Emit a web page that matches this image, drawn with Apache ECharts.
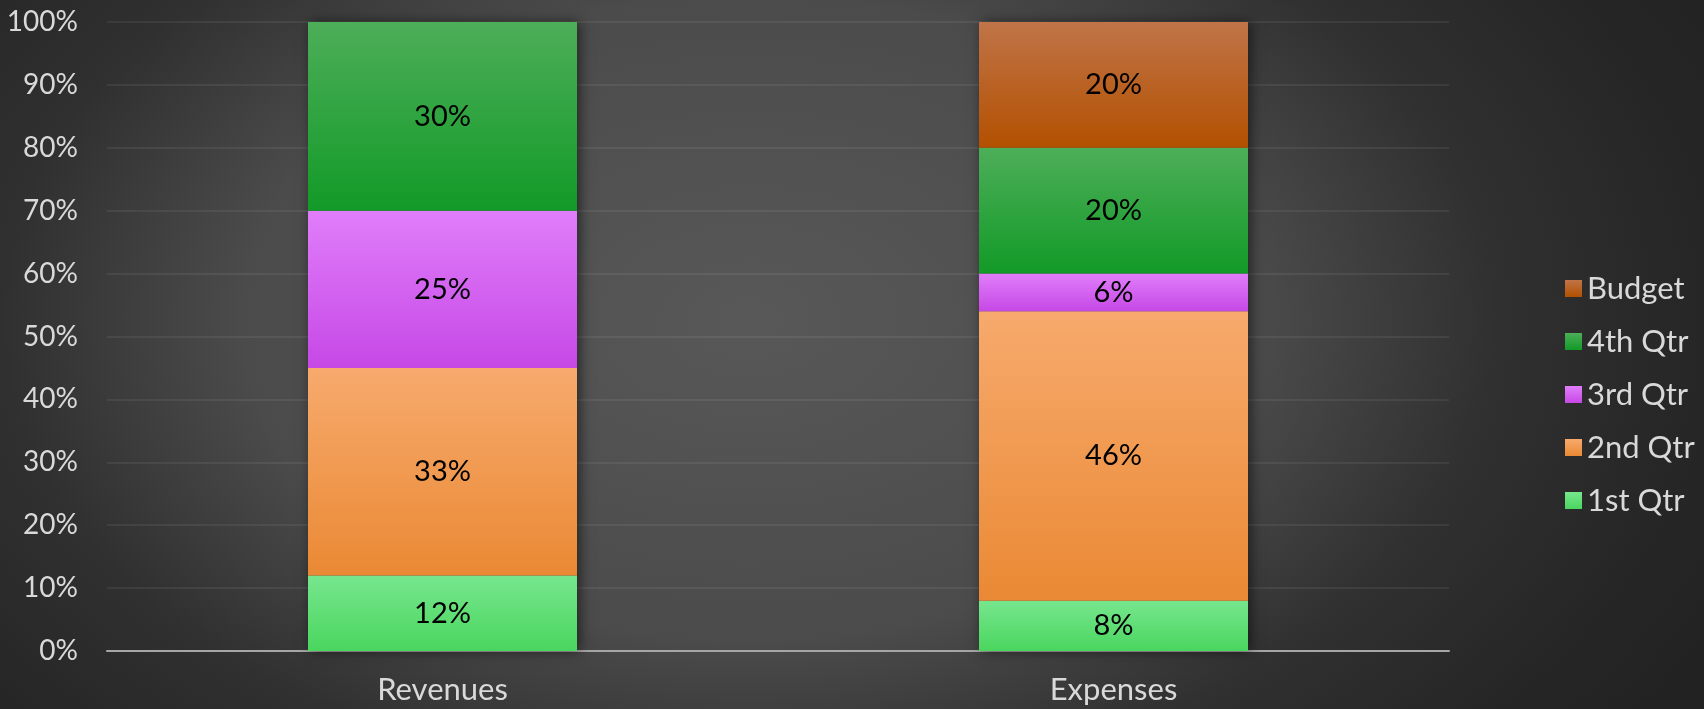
<!DOCTYPE html>
<html>
<head>
<meta charset="utf-8">
<script src="https://cdn.jsdelivr.net/npm/echarts@6/dist/echarts.min.js"></script>
<style>
  html, body { margin: 0; padding: 0; }
  body {
    width: 1704px; height: 709px; overflow: hidden;
    background: radial-gradient(ellipse 1100px 700px at 44% 45%, #585858 0%, #4b4b4b 46%, #303030 68%, #262626 87%, #222222 100%);
  }
  #chart { width: 1704px; height: 709px; }
</style>
</head>
<body>
<div id="chart"></div>
<script>
const categories = ['Revenues', 'Expenses'];
const qtr1 = [12, 8];
const qtr2 = [33, 46];
const qtr3 = [25, 6];
const qtr4 = [30, 20];
const budget = ['-', 20];
const totals = [100, 100];
const legendOrder = ['Budget', '4th Qtr', '3rd Qtr', '2nd Qtr', '1st Qtr'];

const FONT = 'Lato, "Open Sans", sans-serif';
function grad(top, bottom) {
  return { type: 'linear', x: 0, y: 0, x2: 0, y2: 1,
    colorStops: [{ offset: 0, color: top }, { offset: 1, color: bottom }] };
}
const label = { show: true, position: 'inside', formatter: '{c}%', color: '#000',
  fontSize: 29, fontFamily: FONT };

function seg(name, data, top, bottom) {
  return { name, type: 'bar', stack: 'all', data, barWidth: 269, z: 3,
    itemStyle: { color: grad(top, bottom) }, label };
}

const chart = echarts.init(document.getElementById('chart'), null, { renderer: 'canvas' });
chart.setOption({
  animation: false,
  backgroundColor: 'transparent',
  grid: { left: 107, right: 255, top: 22, bottom: 58 },
  legend: {
    data: legendOrder, orient: 'vertical', left: 1560, top: 268,
    itemWidth: 17, itemHeight: 17, itemGap: 22, icon: 'rect',
    textStyle: { color: '#d9d9d9', fontSize: 31, lineHeight: 31, fontFamily: FONT }
  },
  xAxis: {
    type: 'category', data: categories,
    axisLine: { lineStyle: { color: '#a6a6a6', width: 2 } },
    axisTick: { show: false },
    axisLabel: { color: '#d9d9d9', fontSize: 31, fontFamily: FONT, margin: 23 }
  },
  yAxis: {
    type: 'value', min: 0, max: 100, interval: 10,
    axisLine: { show: false }, axisTick: { show: false },
    axisLabel: { formatter: '{value}%', color: '#d9d9d9', fontSize: 28, fontFamily: FONT, margin: 29 },
    splitLine: { lineStyle: { color: 'rgba(255,255,255,0.09)', width: 1.5 } }
  },
  series: [
    { name: 'shadow', type: 'bar', data: totals, barWidth: 269, barGap: '-100%', z: 2,
      silent: true,
      itemStyle: { color: '#444', shadowColor: 'rgba(0,0,0,0.55)', shadowBlur: 12, shadowOffsetX: 3 } },
    seg('1st Qtr', qtr1, '#77e68e', '#4ad65e'),
    seg('2nd Qtr', qtr2, '#f7aa6d', '#ea8934'),
    seg('3rd Qtr', qtr3, '#e07efa', '#c648e6'),
    seg('4th Qtr', qtr4, '#4dae59', '#129a27'),
    seg('Budget', budget, '#c07448', '#b35000')
  ]
});
</script>
</body>
</html>
